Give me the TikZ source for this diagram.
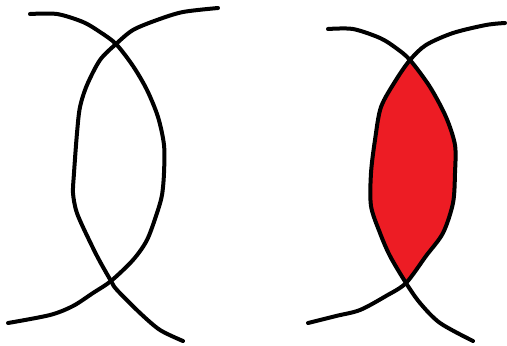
\documentclass[tikz,border=0pt]{standalone}
\definecolor{paintred}{HTML}{ED1C24}
\tikzset{stroke/.style={line width=4pt, line cap=round, line join=round, black}}
\begin{document}
\begin{tikzpicture}[x=1pt,y=-1pt]
\useasboundingbox (0,0) rectangle (507,346);
% right lens fill
\fill[paintred] plot[smooth] coordinates {(410,60) (430,87) (446,117) (455,145) (455,173) (453,203) (443,233) (426,256) (406,283)}
  -- plot[smooth] coordinates {(406,283) (390,256) (380,233) (371,206) (371,173) (375,140) (381,107) (396,80) (410,60)} -- cycle;
% left figure: ")" curve and "(" curve
\draw[stroke] plot[smooth] coordinates {(30,14) (57,14) (83,22) (100,32) (116,44) (133,66) (147,90) (158,117) (164,145) (164,173) (162,195) (157,213) (147,240) (133,260) (111,281) (93,293) (73,306) (50,315) (8,323)};
\draw[stroke] plot[smooth] coordinates {(218,8) (183,12) (157,20) (133,30) (116,44) (100,60) (87,85) (80,107) (77,133) (74,173) (73,193) (76,210) (82,225) (97,256) (111,281) (117,290) (140,313) (160,330) (183,341)};
% right figure
\draw[stroke] plot[smooth] coordinates {(328,29) (353,29) (380,38) (396,48) (410,60) (430,87) (446,117) (455,145) (455,173) (453,203) (443,233) (426,256) (406,283) (386,296) (360,310) (336,316) (308,323)};
\draw[stroke] plot[smooth] coordinates {(505,23) (486,25) (453,33) (426,45) (410,60) (396,80) (381,107) (375,140) (371,173) (371,206) (380,233) (390,256) (406,283) (420,303) (440,323) (473,341)};
\end{tikzpicture}
\end{document}
